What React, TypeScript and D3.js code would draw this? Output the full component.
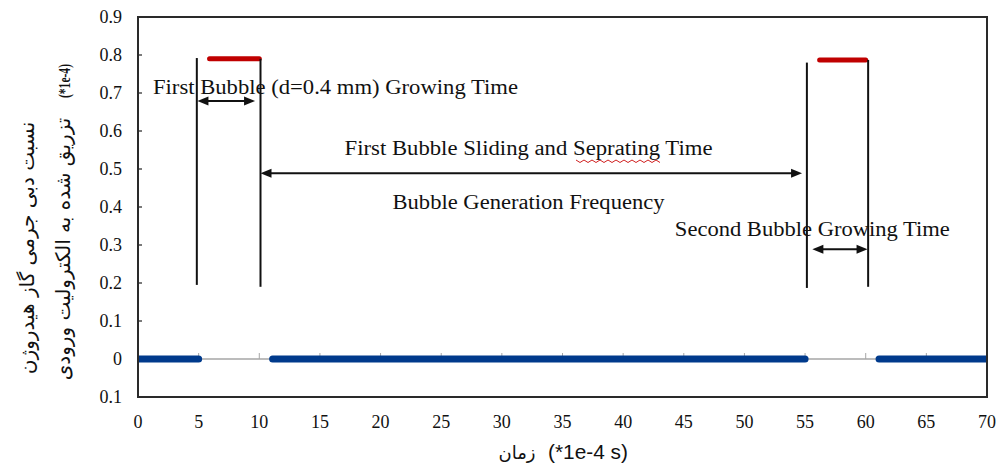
import React from "react";
import * as d3 from "d3";

// ---- data ----
const xTicks = [0, 5, 10, 15, 20, 25, 30, 35, 40, 45, 50, 55, 60, 65, 70];
const yTicks = [-0.1, 0, 0.1, 0.2, 0.3, 0.4, 0.5, 0.6, 0.7, 0.8, 0.9];
const yTickLabels = ["0.1", "0", "0.1", "0.2", "0.3", "0.4", "0.5", "0.6", "0.7", "0.8", "0.9"];

// blue series (value 0)
const blueStart = [0, 11.1, 61.1];
const blueEnd = [5.0, 55.0, 70];
const blueLevel = 0;

// red series
const redStart = [5.9, 56.2];
const redEnd = [10.0, 60.0];
const redLevel = [0.79, 0.787];

// vertical marker lines
const markerX = [4.85, 10.1, 55.15, 60.2];
const markerTop = [0.792, 0.79, 0.78, 0.787];
const markerBottom = [0.195, 0.19, 0.187, 0.19];

// double arrows
const arrowFrom = [4.9, 10.1, 55.6];
const arrowTo = [9.65, 54.75, 60.15];
const arrowLevel = [0.679, 0.489, 0.289];

// annotations
const noteText = [
  "First Bubble (d=0.4 mm) Growing Time",
  "First Bubble Sliding and Seprating Time",
  "Bubble Generation Frequency",
  "Second Bubble Growing Time",
];
const noteX = [16.28, 32.2, 32.2, 55.6];
const noteY = [0.716, 0.555, 0.413, 0.342];
const noteLen = [365, 368, 272, 275];

const yTitle1 = "نسبت دبی جرمی گاز هیدروژن";
const yTitle2 = "تزریق شده به الکترولیت ورودی";
const yUnit = "(*1e-4)";
const xTitleFa = "زمان";
const xTitleUnit = "(*1e-4 s)";

export default function App() {
  const W = 1000;
  const H = 463;
  const x = d3.scaleLinear().domain([0, 70]).range([138, 987]);
  const y = d3.scaleLinear().domain([-0.1, 0.9]).range([397, 17]);
  const line = d3.line<[number, number]>().x((d) => x(d[0])).y((d) => y(d[1]));
  const serif = "Liberation Serif";
  const fa = "DejaVu Sans";

  const arrowHead = (tipX: number, tipY: number, dir: number) => {
    const L = 11, hw = 4.5;
    return `M${tipX},${tipY} L${tipX - dir * L},${tipY - hw} L${tipX - dir * L},${tipY + hw} Z`;
  };

  return (
    <svg width={W} height={H} style={{ position: "absolute", left: 0, top: 0, background: "#fff" }}>
      <defs>
        <clipPath id="plot">
          <rect x={x(0)} y={y(0.9)} width={x(70) - x(0)} height={y(-0.1) - y(0.9)} />
        </clipPath>
      </defs>
      <rect x={0} y={0} width={W} height={H} fill="#fff" />

      {/* x axis baseline at y=0 */}
      <line x1={x(0)} x2={x(70)} y1={y(0)} y2={y(0)} stroke="#a6a6a6" strokeWidth={1.5} />
      {xTicks.map((t) => (
        <line key={"xt" + t} x1={x(t)} x2={x(t)} y1={y(0)} y2={y(0) - 6} stroke="#a6a6a6" strokeWidth={1} />
      ))}

      {/* y ticks */}
      {yTicks.map((t) => (
        <line key={"yt" + t} x1={x(0)} x2={x(0) + 4} y1={y(t)} y2={y(t)} stroke="#222" strokeWidth={1.2} />
      ))}

      {/* blue series */}
      <g clipPath="url(#plot)">
        {blueStart.map((s, i) => (
          <path
            key={"b" + i}
            d={line([[s, blueLevel], [blueEnd[i], blueLevel]]) || ""}
            stroke="#003a8c"
            strokeWidth={7}
            strokeLinecap="round"
            fill="none"
          />
        ))}
      </g>

      {/* red series */}
      {redStart.map((s, i) => (
        <path
          key={"r" + i}
          d={line([[s, redLevel[i]], [redEnd[i], redLevel[i]]]) || ""}
          stroke="#c00000"
          strokeWidth={5}
          strokeLinecap="round"
          fill="none"
        />
      ))}

      {/* marker lines */}
      {markerX.map((m, i) => (
        <line key={"m" + i} x1={x(m)} x2={x(m)} y1={y(markerTop[i])} y2={y(markerBottom[i])} stroke="#111" strokeWidth={2} />
      ))}

      {/* arrows */}
      {arrowFrom.map((a, i) => {
        const x1 = x(a), x2 = x(arrowTo[i]), yy = y(arrowLevel[i]);
        return (
          <g key={"a" + i}>
            <line x1={x1 + 6} x2={x2 - 6} y1={yy} y2={yy} stroke="#111" strokeWidth={2} />
            <path d={arrowHead(x1, yy, -1)} fill="#111" />
            <path d={arrowHead(x2, yy, 1)} fill="#111" />
          </g>
        );
      })}

      {/* annotations */}
      {noteText.map((t, i) => (
        <text
          key={"n" + i}
          x={x(noteX[i])}
          y={y(noteY[i])}
          textAnchor="middle"
          dominantBaseline="central"
          fontFamily={serif}
          fontSize={20}
          fill="#111"
          textLength={noteLen[i]}
          lengthAdjust="spacingAndGlyphs"
        >
          {t}
        </text>
      ))}
      {/* spellcheck squiggle under "Seprating" */}
      <path
        d={d3.range(0, 22).map((k) => `${k === 0 ? "M" : "L"}${576 + k * 4},${k % 2 === 0 ? 160 : 162.5}`).join(" ")}
        stroke="#d02020"
        strokeWidth={1}
        fill="none"
      />

      {/* frame */}
      <rect
        x={x(0)}
        y={y(0.9)}
        width={x(70) - x(0)}
        height={y(-0.1) - y(0.9)}
        fill="none"
        stroke="#2a2a2a"
        strokeWidth={2}
      />

      {/* tick labels */}
      {yTicks.map((t, i) => (
        <text
          key={"yl" + t}
          x={122}
          y={y(t)}
          textAnchor="end"
          dominantBaseline="central"
          style={{ fontFamily: "'Liberation Serif', serif", fontSize: "18px" }}
          fill="#111"
        >
          {yTickLabels[i]}
        </text>
      ))}
      {xTicks.map((t) => (
        <text
          key={"xl" + t}
          x={x(t)}
          y={422}
          textAnchor="middle"
          dominantBaseline="central"
          style={{ fontFamily: "'Liberation Serif', serif", fontSize: "18px" }}
          fill="#111"
        >
          {String(t)}
        </text>
      ))}

      {/* axis titles */}
      <text
        transform={`translate(27,248) rotate(-90)`}
        textAnchor="middle"
        dominantBaseline="central"
        fontFamily={fa}
        fontSize={20}
        fill="#111"
      >
        {yTitle1}
      </text>
      <text
        transform={`translate(63,249) rotate(-90)`}
        textAnchor="middle"
        dominantBaseline="central"
        fontFamily={fa}
        fontSize={20}
        fill="#111"
      >
        {yTitle2}
      </text>
      <text
        transform={`translate(64,81) rotate(-90)`}
        textAnchor="middle"
        dominantBaseline="central"
        fontFamily={serif}
        fontSize={17}
        fontWeight="bold"
        fill="#111"
        textLength={34}
        lengthAdjust="spacingAndGlyphs"
      >
        {yUnit}
      </text>
      <text
        x={517}
        y={452}
        textAnchor="middle"
        dominantBaseline="central"
        fontFamily={fa}
        fontSize={18}
        fill="#111"
      >
        {xTitleFa}
      </text>
      <text
        x={548}
        y={452}
        textAnchor="start"
        dominantBaseline="central"
        fontFamily="Liberation Sans"
        fontSize={20}
        fill="#111"
        textLength={80}
        lengthAdjust="spacingAndGlyphs"
      >
        {xTitleUnit}
      </text>
    </svg>
  );
}
